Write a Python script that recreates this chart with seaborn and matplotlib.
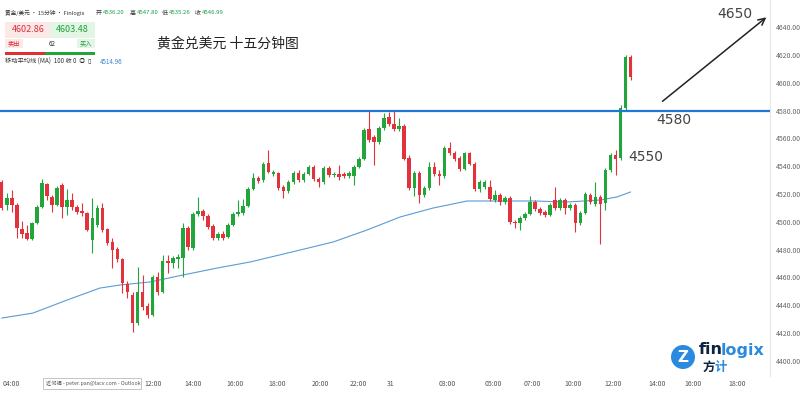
import numpy as np
import pandas as pd
import seaborn as sns
import matplotlib
matplotlib.use('Agg')
import matplotlib.pyplot as plt
from matplotlib.patches import Rectangle, Circle

# 15 minute candles, XAU/USD
opens = [
    4528.7, 4512.1, 4517.1, 4512.1, 4494.8, 4491.9, 4487.6, 4499.1, 4510.7, 4527.2,
    4517.9, 4512.1, 4526.5, 4510.7, 4515.7, 4510.7, 4507.8, 4506.3, 4486.9, 4497.7,
    4509.9, 4494.8, 4485.5, 4480.4, 4473.2, 4455.2, 4447.3, 4427.1, 4449.5, 4439.4,
    4432.9, 4460.3, 4449.5, 4471.8, 4470.3, 4473.2, 4473.9, 4495.5, 4481.1, 4505.6,
    4507.8, 4504.2, 4497.0, 4488.3, 4491.2, 4489.1, 4497.7, 4505.6, 4506.3, 4511.4,
    4523.6, 4531.5, 4530.1, 4542.3, 4534.4, 4535.1, 4525.1, 4522.2, 4528.7, 4535.1,
    4530.1, 4534.4, 4539.5, 4530.8, 4528.7, 4538.7, 4533.7, 4534.4, 4534.4, 4533.0,
    4533.0, 4539.5, 4545.2, 4566.8, 4561.1, 4557.5, 4567.5, 4575.5, 4570.4, 4566.8,
    4569.0, 4545.9, 4524.3, 4535.1, 4519.3, 4524.3, 4539.5, 4534.4, 4533.0, 4553.1,
    4549.5, 4545.9, 4538.0, 4549.5, 4541.6, 4523.6, 4525.1, 4525.1, 4515.7, 4519.3,
    4514.3, 4517.1, 4499.9, 4499.1, 4502.7, 4505.6, 4514.3, 4509.2, 4507.1, 4504.9,
    4515.7, 4509.9, 4515.7, 4509.9, 4512.1, 4499.1, 4506.3, 4519.3, 4512.8, 4517.9,
    4513.5, 4537.3, 4548.1, 4545.9, 4581.9, 4618.7]
highs = [
    4530.1, 4520.7, 4522.9, 4513.5, 4500.6, 4497.7, 4499.9, 4512.1, 4530.8, 4527.9,
    4519.3, 4525.8, 4527.9, 4523.6, 4520.7, 4512.1, 4513.5, 4507.1, 4517.1, 4512.1,
    4513.5, 4495.5, 4488.3, 4481.9, 4473.9, 4457.4, 4449.5, 4467.5, 4461.7, 4441.5,
    4461.7, 4463.9, 4476.1, 4476.1, 4475.4, 4476.8, 4499.1, 4497.0, 4507.1, 4517.9,
    4509.2, 4505.6, 4498.4, 4492.7, 4493.4, 4499.1, 4507.1, 4515.7, 4516.4, 4525.1,
    4535.1, 4533.0, 4543.1, 4551.7, 4537.3, 4535.9, 4526.5, 4530.1, 4536.6, 4537.3,
    4535.9, 4540.9, 4540.9, 4532.3, 4540.2, 4540.2, 4535.9, 4540.9, 4535.9, 4536.6,
    4540.9, 4546.7, 4567.5, 4580.5, 4562.5, 4569.0, 4578.3, 4579.1, 4579.8, 4574.7,
    4570.4, 4548.1, 4536.6, 4536.6, 4525.8, 4543.1, 4543.1, 4537.3, 4554.6, 4557.5,
    4551.0, 4547.4, 4550.3, 4550.3, 4543.1, 4530.1, 4530.1, 4530.1, 4522.9, 4520.7,
    4518.6, 4518.6, 4501.3, 4504.2, 4507.1, 4518.6, 4515.7, 4510.7, 4508.5, 4513.5,
    4525.1, 4517.1, 4517.1, 4513.5, 4513.5, 4507.8, 4521.5, 4520.7, 4528.7, 4519.3,
    4538.7, 4549.5, 4551.7, 4584.1, 4620.1, 4620.1]
lows = [
    4508.5, 4508.5, 4507.1, 4488.3, 4488.3, 4486.9, 4486.9, 4498.4, 4509.9, 4515.7,
    4507.1, 4511.4, 4502.7, 4504.9, 4508.5, 4505.6, 4504.2, 4493.4, 4477.5, 4496.3,
    4492.7, 4483.3, 4466.7, 4471.1, 4448.7, 4445.1, 4420.7, 4425.7, 4436.5, 4430.7,
    4432.2, 4447.3, 4448.7, 4463.1, 4466.7, 4466.7, 4460.3, 4479.7, 4479.7, 4504.2,
    4501.3, 4494.8, 4486.9, 4486.9, 4486.9, 4488.3, 4497.0, 4504.2, 4504.9, 4510.7,
    4522.9, 4527.9, 4528.7, 4535.1, 4533.0, 4522.9, 4517.1, 4520.7, 4527.2, 4528.7,
    4528.7, 4533.7, 4529.4, 4525.1, 4527.2, 4532.3, 4532.3, 4530.1, 4531.5, 4531.5,
    4526.5, 4538.7, 4544.5, 4557.5, 4540.9, 4556.0, 4566.1, 4569.0, 4565.4, 4565.4,
    4544.5, 4522.9, 4518.6, 4513.5, 4517.9, 4522.9, 4533.0, 4526.5, 4531.5, 4548.1,
    4543.8, 4536.6, 4537.3, 4540.9, 4522.2, 4521.5, 4523.6, 4515.0, 4514.3, 4512.1,
    4512.8, 4498.4, 4495.5, 4494.1, 4501.3, 4504.9, 4507.8, 4504.9, 4503.5, 4504.2,
    4508.5, 4508.5, 4505.6, 4508.5, 4492.7, 4497.7, 4505.6, 4512.8, 4511.4, 4484.0,
    4508.5, 4535.9, 4533.7, 4544.5, 4580.5, 4602.1]
closes = [
    4509.9, 4517.1, 4512.1, 4495.5, 4491.2, 4487.6, 4499.1, 4510.7, 4527.9, 4518.6,
    4512.1, 4524.3, 4510.7, 4515.7, 4510.7, 4507.1, 4506.3, 4494.1, 4502.7, 4509.9,
    4494.1, 4484.7, 4479.7, 4473.2, 4455.9, 4449.5, 4427.1, 4449.5, 4438.7, 4432.9,
    4460.3, 4449.5, 4471.8, 4470.3, 4473.9, 4474.7, 4495.5, 4481.9, 4505.6, 4507.8,
    4504.2, 4496.3, 4488.3, 4491.2, 4488.3, 4497.7, 4505.6, 4507.1, 4511.4, 4523.6,
    4531.5, 4529.4, 4541.6, 4535.9, 4535.9, 4524.3, 4522.2, 4528.7, 4535.1, 4530.1,
    4534.4, 4539.5, 4530.8, 4528.7, 4538.7, 4533.7, 4534.4, 4532.3, 4533.0, 4535.1,
    4539.5, 4545.2, 4566.1, 4558.9, 4557.5, 4567.5, 4574.7, 4570.4, 4566.8, 4569.0,
    4545.2, 4524.3, 4535.1, 4519.3, 4524.3, 4539.5, 4534.4, 4533.0, 4553.1, 4549.5,
    4545.2, 4538.0, 4549.5, 4541.6, 4523.6, 4528.7, 4528.7, 4516.4, 4519.3, 4514.3,
    4517.1, 4499.9, 4499.1, 4502.7, 4505.6, 4514.3, 4509.2, 4506.3, 4504.9, 4512.1,
    4509.9, 4515.7, 4509.9, 4512.1, 4499.1, 4506.3, 4520.0, 4514.3, 4517.9, 4512.8,
    4537.3, 4548.1, 4545.2, 4581.9, 4618.7, 4604.3]

# MA(100) read at a few candles
ma_idx = [0, 6.2, 13, 19.5, 23.5, 29.5, 36, 42.8, 49.4, 59.3, 65.9, 72.6, 79.2,
          85.7, 92.5, 99, 105.6, 112.4, 119, 122.3, 125]
ma_vals = [4430.7, 4434.3, 4443.7, 4452.3, 4454.5, 4456.7, 4461.7, 4466.7, 4471.1,
           4479.7, 4485.5, 4494.1, 4503.5, 4509.9, 4515.0, 4515.0, 4515.0, 4514.3,
           4515.7, 4517.9, 4521.5]

tick_pos = [2, 30, 38, 46.4, 54.7, 63.3, 70.8, 77.2, 88.5, 97.7, 105.4, 113.6,
            121.5, 130.3, 137.4, 146.2]
tick_labels = ['04:00', '12:00', '14:00', '16:00', '18:00', '20:00', '22:00', '31',
               '03:00', '05:00', '07:00', '10:00', '12:00', '14:00', '16:00', '18:00']
y_ticks = list(range(4400, 4641, 20))
level = 4580

sns.set_theme(style='white')
plt.rcParams['font.family'] = ['Noto Sans CJK SC', 'DejaVu Sans']

RED = '#e2333d'
GREEN = '#22a63c'

df = pd.DataFrame({'open': opens, 'high': highs, 'low': lows, 'close': closes})
df['i'] = np.arange(len(df))
df['up'] = df['close'] >= df['open']
colors = np.where(df['up'], GREEN, RED)

fig = plt.figure(figsize=(8, 3.96), dpi=100)
ax = fig.add_axes([0, 0.0505, 0.9625, 0.9495])

ax.vlines(df['i'], df['low'], df['high'], colors=colors, lw=0.8, zorder=2)
body = (df['close'] - df['open']).abs().clip(lower=0.5)
ax.bar(df['i'], body, bottom=df[['open', 'close']].min(axis=1), width=0.7,
       color=colors, linewidth=0, zorder=3)

madf = pd.DataFrame({'i': ma_idx, 'ma': ma_vals})
sns.lineplot(data=madf, x='i', y='ma', ax=ax, color='#5b9bd5', lw=0.8, zorder=1)

ax.axhline(level, color='#1f78d6', lw=1.6, zorder=4)

ax.set_xlim(-0.34, 152.7)
ax.set_ylim(4389, 4659.7)
ax.set_xticks(tick_pos)
ax.set_xticklabels(tick_labels)
ax.set_yticks(y_ticks)
ax.set_yticklabels([f'{v:.2f}' for v in y_ticks])
ax.yaxis.tick_right()
ax.tick_params(axis='y', length=0, pad=4.5, labelsize=5, labelcolor='#666666')
ax.tick_params(axis='x', length=0, pad=3, labelsize=5, labelcolor='#555555')
ax.set_xlabel('')
ax.set_ylabel('')
for s in ['left', 'top', 'bottom']:
    ax.spines[s].set_visible(False)
ax.spines['right'].set_color('#e6e6e6')
ax.spines['right'].set_linewidth(0.8)

# price annotations
ax.text(133.6, 4573.3, '4580', fontsize=10, color='#444444', ha='center', va='center',
        family='DejaVu Sans')
ax.text(128.1, 4546.7, '4550', fontsize=10, color='#444444', ha='center', va='center',
        family='DejaVu Sans')
ax.text(145.8, 4649.6, '4650', fontsize=10, color='#444444', ha='center', va='center',
        family='DejaVu Sans', clip_on=False)
ax.annotate('', xy=(152.4, 4648.5), xytext=(130.9, 4585.5),
            arrowprops=dict(arrowstyle='->', color='#222222', lw=1.1),
            annotation_clip=False)

# overlay in pixel coordinates for the header and logo
ov = fig.add_axes([0, 0, 1, 1], zorder=5)
ov.set_xlim(0, 800)
ov.set_ylim(396, 0)
ov.axis('off')
ov.patch.set_alpha(0)

ov.text(5, 13, '黄金/美元 · 15分钟 · Finlogix', fontsize=4.1, color='#333333', va='center')
hdr = [(96, '开', 103, '4536.20'), (130, '高', 137, '4547.80'),
       (162, '低', 169, '4535.26'), (195, '收', 202, '4546.99')]
for lx, lab, vx, val in hdr:
    ov.text(lx, 13, lab, fontsize=4.3, color='#333333', va='center')
    ov.text(vx, 13, val, fontsize=4.3, color='#1a9e4a', va='center')

ov.add_patch(Rectangle((5, 22), 45, 16, facecolor='#fde8e8', edgecolor='none'))
ov.add_patch(Rectangle((50, 22), 45, 16, facecolor='#e3f6e6', edgecolor='none'))
ov.text(28, 30, '4602.86', fontsize=6.5, color='#d9303a', ha='center', va='center')
ov.text(72, 30, '4603.48', fontsize=6.5, color='#1f9e3c', ha='center', va='center')
ov.add_patch(Rectangle((5, 39), 18, 9, facecolor='#fde8e8', edgecolor='none'))
ov.add_patch(Rectangle((77, 39), 18, 9, facecolor='#e3f6e6', edgecolor='none'))
ov.text(14, 43.5, '卖出', fontsize=4.5, color='#d9303a', ha='center', va='center')
ov.text(86, 43.5, '买入', fontsize=4.5, color='#1f9e3c', ha='center', va='center')
ov.text(52, 43.5, '62', fontsize=4.5, color='#333333', ha='center', va='center')
ov.add_patch(Rectangle((5, 52), 40, 3, facecolor='#e03030', edgecolor='none'))
ov.add_patch(Rectangle((45, 52), 50, 3, facecolor='#22a63c', edgecolor='none'))
ov.text(5, 62, '移动平均线 (MA)  100 收 0  ◎  ▯', fontsize=4.5, color='#333333',
        va='center', family=['Noto Sans CJK SC', 'DejaVu Sans'])
ov.text(100, 62, '4514.96', fontsize=4.5, color='#3a86d6', va='center')

ov.text(157, 44, '黄金兑美元 十五分钟图', fontsize=10, color='#222222', va='center')

# logo
ov.add_patch(Circle((683, 357), 12, facecolor='#2a8ae0', edgecolor='none'))
ov.text(683, 357.5, 'Z', fontsize=11, color='white', ha='center', va='center',
        fontweight='bold', family='DejaVu Sans')
ov.text(699, 350, 'fin', fontsize=11.5, color='#0e2340', va='center', fontweight='bold',
        family='DejaVu Sans')
ov.text(721, 350, 'logix', fontsize=11.5, color='#2a8ae0', va='center', fontweight='bold',
        family='DejaVu Sans')
ov.text(703, 367, '方', fontsize=9, color='#0e2340', va='center', fontweight='bold')
ov.text(715, 367, '计', fontsize=9, color='#2a8ae0', va='center', fontweight='bold')

# tooltip left over from the screenshot
ov.add_patch(Rectangle((43, 378), 98, 11, facecolor='white', edgecolor='#bbbbbb', lw=0.6))
ov.text(46, 383.5, '近邻福 - peter.pan@lacv.com - Outlook', fontsize=3.8,
        color='#555555', va='center')

fig.savefig('out.png', dpi=100)
plt.close(fig)
